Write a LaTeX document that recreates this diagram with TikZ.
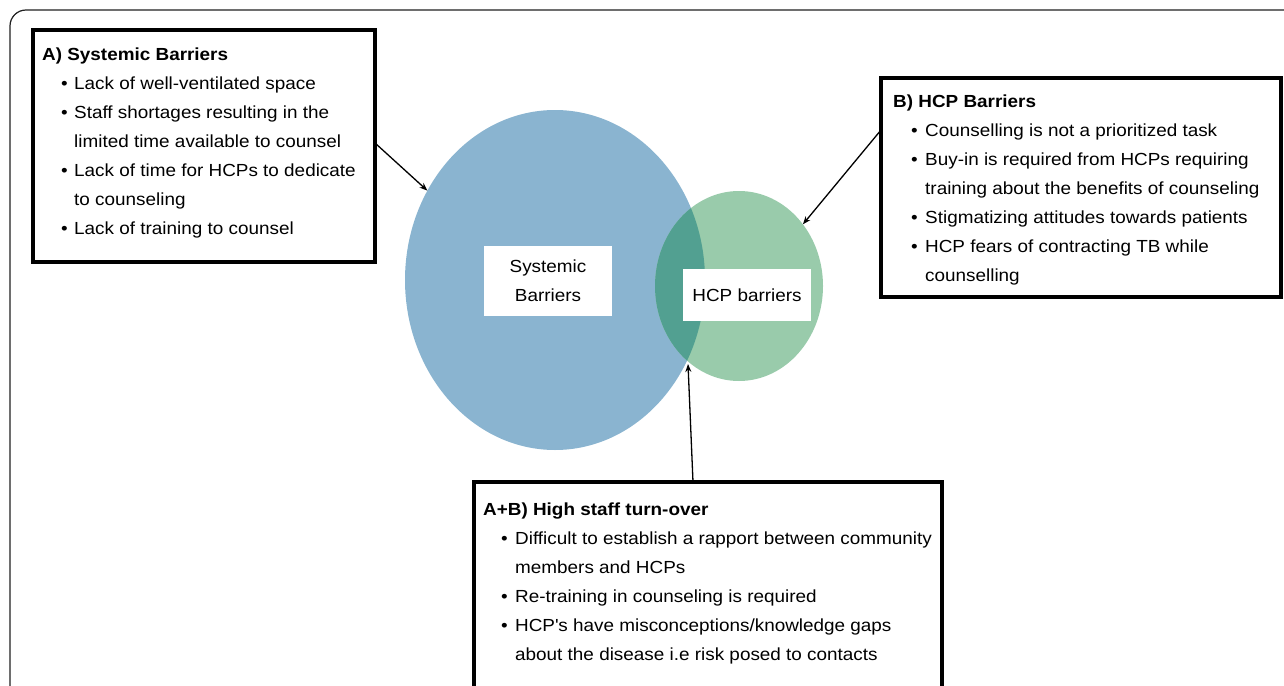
\documentclass[tikz,border=0pt]{standalone}
\usepackage{fontspec}
\setmainfont{Liberation Sans}[FakeStretch=1.08]
\usetikzlibrary{arrows.meta,shapes.geometric}
\definecolor{sysblue}{HTML}{8AB4D0}
\definecolor{hcpgreen}{HTML}{99CBAB}
\definecolor{overlapteal}{HTML}{52A091}
\definecolor{framegray}{HTML}{202020}
\newcommand\bitem[1][18pt]{\hspace*{#1}\makebox[\dimexpr32pt-#1\relax][l]{\textbullet}}
\newcommand\bcont{\hspace*{32pt}}
\tikzset{
  txt/.style={font=\fontsize{17.5pt}{29pt}\selectfont, inner sep=0pt, anchor=base west},
  boxframe/.style={draw=black, line width=3.5pt, outer sep=0pt, inner sep=0pt, anchor=north west, fill=white},
  boxline/.style={draw=black, line width=3.5pt},
  lbl/.style={fill=white, inner sep=0pt, align=center, font=\fontsize{17.5pt}{29pt}\selectfont},
  arr/.style={draw=black, line width=1.3pt, -{Stealth[length=8pt,width=6pt]}},
  ell/.style={ellipse, inner sep=0pt, outer sep=0pt}
}
\begin{document}
\begin{tikzpicture}[x=1pt,y=-1pt]
\useasboundingbox (0,0) rectangle (1284,685);
% outer frame
\draw[framegray, line width=1.2pt, rounded corners=16pt] (10,690) -- (10,10) -- (1290,10);
% ellipses
\fill[sysblue] (555,280) ellipse [x radius=150pt, y radius=170pt];
\fill[hcpgreen] (739,286) ellipse [x radius=84pt, y radius=95pt];
\begin{scope}
  \clip (555,280) ellipse [x radius=150pt, y radius=170pt];
  \fill[overlapteal] (739,286) ellipse [x radius=84pt, y radius=95pt];
\end{scope}
\node[ell, minimum width=300pt, minimum height=340pt] (blue) at (555,280) {};
\node[ell, minimum width=168pt, minimum height=190pt] (green) at (739,286) {};
\coordinate (ix) at (688,364);
% labels in the circles
\node[lbl, minimum width=128pt, minimum height=70pt] (syslbl) at (548,281) {Systemic\\Barriers};
\node[lbl, minimum width=128pt, minimum height=52pt] (hcplbl) at (747,295) {HCP barriers};
% box A
\node[boxframe, minimum width=342pt, minimum height=232pt] (A) at (33,30) {};
\node[txt] (tA) at (42,60) {\begin{tabular}[t]{@{}l@{}}
\textbf{A) Systemic Barriers}\\
\bitem[19pt]Lack of well-ventilated space\\
\bitem[19pt]Staff shortages resulting in the\\
\bcont limited time available to counsel\\
\bitem[19pt]Lack of time for HCPs to dedicate\\
\bcont to counseling\\
\bitem[19pt]Lack of training to counsel
\end{tabular}};
% box B
\node[boxframe, minimum width=400pt, minimum height=219pt] (B) at (881,78) {};
\node[txt] (tB) at (893,107) {\begin{tabular}[t]{@{}l@{}}
\textbf{B) HCP Barriers}\\
\bitem Counselling is not a prioritized task\\
\bitem Buy-in is required from HCPs requiring\\
\bcont training about the benefits of counseling\\
\bitem Stigmatizing attitudes towards patients\\
\bitem HCP fears of contracting TB while\\
\bcont counselling
\end{tabular}};
% box C
\node[boxframe, draw=none, fill=none, minimum width=468pt, minimum height=220pt] (C) at (474,482) {};
\draw[boxline] (C.south west) -- (C.north west) -- (C.north east) -- (C.south east);
\node[txt] (tC) at (483,515) {\begin{tabular}[t]{@{}l@{}}
\textbf{A+B) High staff turn-over}\\
\bitem Difficult to establish a rapport between community\\
\bcont members and HCPs\\
\bitem Re-training in counseling is required\\
\bitem HCP\textquotesingle s have misconceptions/knowledge gaps\\
\bcont about the disease i.e risk posed to contacts
\end{tabular}};
% connectors
\draw[arr] ([yshift=-113pt]A.north east) -- (blue.145);
\draw[arr] ([yshift=-52pt]B.north west) -- (green.44);
\draw[arr] ([xshift=219pt]C.north west) -- (ix);
\end{tikzpicture}
\end{document}
